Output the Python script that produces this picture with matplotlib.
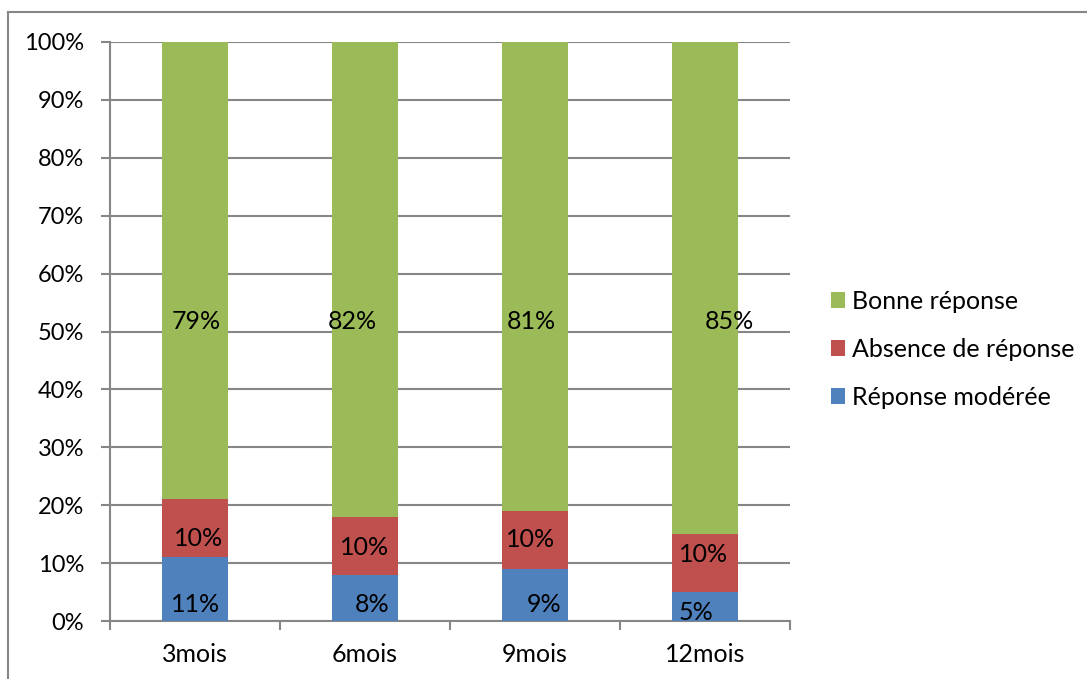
import matplotlib
matplotlib.use("Agg")
import matplotlib.pyplot as plt
from matplotlib.lines import Line2D
import numpy as np

plt.rcParams['font.family'] = ['Lato', 'DejaVu Sans']

categories = ["3mois", "6mois", "9mois", "12mois"]
reponse_moderee = [11, 8, 9, 5]
absence_reponse = [10, 10, 10, 10]
bonne_reponse = [79, 82, 81, 85]
yticks = [0, 10, 20, 30, 40, 50, 60, 70, 80, 90, 100]

GREEN = "#9BBB59"
RED = "#C0504D"
BLUE = "#4F81BD"
GRID = "#868686"
FS = 18
FS_Y = 17

fig = plt.figure(figsize=(10.87, 6.79), dpi=100)
ax = fig.add_axes([110 / 1087, 1 - 621 / 679, 680 / 1087, 579 / 679])

x = np.arange(len(categories))
w = 0.394
blue = np.array(reponse_moderee)
red = np.array(absence_reponse)
green = np.array(bonne_reponse)

b1 = ax.bar(x, blue, w, color=BLUE, label="Réponse modérée", zorder=3)
b2 = ax.bar(x, red, w, bottom=blue, color=RED, label="Absence de réponse", zorder=3)
b3 = ax.bar(x, green, w, bottom=blue + red, color=GREEN, label="Bonne réponse", zorder=3)

# value labels (label anchor = visual centre of the digits)
px = 72 / 100  # points per pixel
green_y = [52, 52, 52, 52]
green_dx = [1, -13, -4, 24]
red_y = [14.5, 13.0, 14.4, 11.8]
red_dx = [4, 0, -4, -1]
blue_y = [3.1, 3.1, 3.1, 1.7]
blue_dx = [1, 7, 9, -9]

def put(vals, ys, dxs):
    for i, (v, yy, dx) in enumerate(zip(vals, ys, dxs)):
        ax.annotate(f"{v}%", xy=(x[i], yy), xytext=(dx * px, -9 * px),
                    textcoords="offset points", ha="center", va="baseline",
                    fontsize=FS, color="black", zorder=5)

put(green, green_y, green_dx)
put(red, red_y, red_dx)
put(blue, blue_y, blue_dx)

ax.set_xlim(-0.5, len(categories) - 0.5)
ax.set_ylim(0, 100)
ax.set_yticks(yticks)
ax.set_yticklabels([f"{t}%" for t in yticks], fontsize=FS_Y)
ax.yaxis.grid(True, color=GRID, linewidth=1.5, zorder=0)
ax.set_axisbelow(True)

ax.set_xticks(x)
ax.set_xticklabels(categories, fontsize=FS)
ax.set_xticks(np.arange(-0.5, len(categories)), minor=True)
ax.tick_params(axis="x", which="major", length=0, pad=16)
ax.tick_params(axis="x", which="minor", length=9 * px, width=1.5, color=GRID)
ax.tick_params(axis="y", length=9 * px, width=1.5, color=GRID, pad=12)

for s in ["top", "right"]:
    ax.spines[s].set_visible(False)
for s in ["left", "bottom"]:
    ax.spines[s].set_color(GRID)
    ax.spines[s].set_linewidth(1.5)

leg = ax.legend(handles=[b3, b2, b1], loc="upper left",
                bbox_to_anchor=(831 / 1087, 1 - 290 / 679),
                bbox_transform=fig.transFigure, frameon=False, fontsize=FS,
                handlelength=0.58, handleheight=0.58, handletextpad=0.28,
                labelspacing=1.0, borderaxespad=0, borderpad=0)

# outer chart frame
fig.add_artist(Line2D([8 / 1087, 1.0], [1 - 12 / 679, 1 - 12 / 679],
                      transform=fig.transFigure, color=GRID, linewidth=1.5))
fig.add_artist(Line2D([8 / 1087, 8 / 1087], [0.0, 1 - 12 / 679],
                      transform=fig.transFigure, color=GRID, linewidth=1.5))

fig.savefig("out.png", dpi=100)
